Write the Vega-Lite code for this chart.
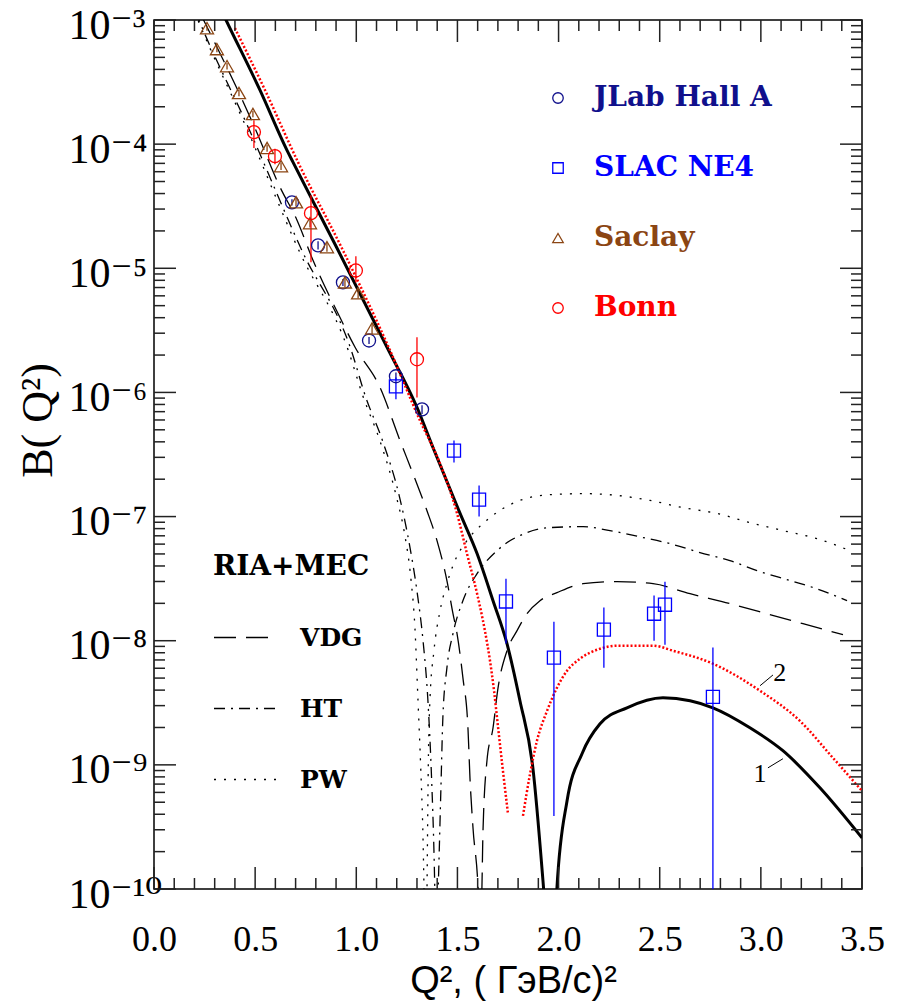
{
  "$schema": "https://vega.github.io/schema/vega-lite/v6.json",
  "width": 708,
  "height": 869,
  "autosize": {"type": "none"},
  "padding": {"left": 154, "top": 20, "right": 35, "bottom": 114},
  "background": "white",
  "config": {
    "view": {"stroke": "black", "strokeWidth": 1.5},
    "axis": {"domain": false, "grid": false, "ticks": false, "labelColor": "black", "titleColor": "black", "labelOverlap": false, "labelBound": false, "labelFlush": false}
  },
  "datasets": {
    "xticks": [
      {"t":0,"kind":"major"},{"t":0.1,"kind":"minor"},{"t":0.2,"kind":"minor"},{"t":0.3,"kind":"minor"},{"t":0.4,"kind":"minor"},{"t":0.5,"kind":"major"},{"t":0.6,"kind":"minor"},{"t":0.7,"kind":"minor"},{"t":0.8,"kind":"minor"},{"t":0.9,"kind":"minor"},
      {"t":1,"kind":"major"},{"t":1.1,"kind":"minor"},{"t":1.2,"kind":"minor"},{"t":1.3,"kind":"minor"},{"t":1.4,"kind":"minor"},{"t":1.5,"kind":"major"},{"t":1.6,"kind":"minor"},{"t":1.7,"kind":"minor"},{"t":1.8,"kind":"minor"},{"t":1.9,"kind":"minor"},
      {"t":2,"kind":"major"},{"t":2.1,"kind":"minor"},{"t":2.2,"kind":"minor"},{"t":2.3,"kind":"minor"},{"t":2.4,"kind":"minor"},{"t":2.5,"kind":"major"},{"t":2.6,"kind":"minor"},{"t":2.7,"kind":"minor"},{"t":2.8,"kind":"minor"},{"t":2.9,"kind":"minor"},
      {"t":3,"kind":"major"},{"t":3.1,"kind":"minor"},{"t":3.2,"kind":"minor"},{"t":3.3,"kind":"minor"},{"t":3.4,"kind":"minor"},{"t":3.5,"kind":"major"}
    ],
    "yticks": [
      {"t":1e-10,"kind":"major"},{"t":2e-10,"kind":"minor"},{"t":3e-10,"kind":"minor"},{"t":4e-10,"kind":"minor"},{"t":5e-10,"kind":"minor"},{"t":6e-10,"kind":"minor"},{"t":7e-10,"kind":"minor"},{"t":8e-10,"kind":"minor"},{"t":9e-10,"kind":"minor"},
      {"t":1e-9,"kind":"major"},{"t":2e-9,"kind":"minor"},{"t":3e-9,"kind":"minor"},{"t":4e-9,"kind":"minor"},{"t":5e-9,"kind":"minor"},{"t":6e-9,"kind":"minor"},{"t":7e-9,"kind":"minor"},{"t":8e-9,"kind":"minor"},{"t":9e-9,"kind":"minor"},
      {"t":1e-8,"kind":"major"},{"t":2e-8,"kind":"minor"},{"t":3e-8,"kind":"minor"},{"t":4e-8,"kind":"minor"},{"t":5e-8,"kind":"minor"},{"t":6e-8,"kind":"minor"},{"t":7e-8,"kind":"minor"},{"t":8e-8,"kind":"minor"},{"t":9e-8,"kind":"minor"},
      {"t":1e-7,"kind":"major"},{"t":2e-7,"kind":"minor"},{"t":3e-7,"kind":"minor"},{"t":4e-7,"kind":"minor"},{"t":5e-7,"kind":"minor"},{"t":6e-7,"kind":"minor"},{"t":7e-7,"kind":"minor"},{"t":8e-7,"kind":"minor"},{"t":9e-7,"kind":"minor"},
      {"t":1e-6,"kind":"major"},{"t":2e-6,"kind":"minor"},{"t":3e-6,"kind":"minor"},{"t":4e-6,"kind":"minor"},{"t":5e-6,"kind":"minor"},{"t":6e-6,"kind":"minor"},{"t":7e-6,"kind":"minor"},{"t":8e-6,"kind":"minor"},{"t":9e-6,"kind":"minor"},
      {"t":1e-5,"kind":"major"},{"t":2e-5,"kind":"minor"},{"t":3e-5,"kind":"minor"},{"t":4e-5,"kind":"minor"},{"t":5e-5,"kind":"minor"},{"t":6e-5,"kind":"minor"},{"t":7e-5,"kind":"minor"},{"t":8e-5,"kind":"minor"},{"t":9e-5,"kind":"minor"},
      {"t":1e-4,"kind":"major"},{"t":2e-4,"kind":"minor"},{"t":3e-4,"kind":"minor"},{"t":4e-4,"kind":"minor"},{"t":5e-4,"kind":"minor"},{"t":6e-4,"kind":"minor"},{"t":7e-4,"kind":"minor"},{"t":8e-4,"kind":"minor"},{"t":9e-4,"kind":"minor"},
      {"t":1e-3,"kind":"major"}
    ],
    "theory": [
      {"model":"VDG","branch":"d","Q2":0.23,"B":1.12e-3},{"model":"VDG","branch":"d","Q2":0.245,"B":1e-3},{"model":"VDG","branch":"d","Q2":0.499,"B":1.35e-4},{"model":"VDG","branch":"d","Q2":0.623,"B":4.5e-5},{"model":"VDG","branch":"d","Q2":0.707,"B":2.44e-5},{"model":"VDG","branch":"d","Q2":0.786,"B":1.16e-5},{"model":"VDG","branch":"d","Q2":0.919,"B":4.03e-6},{"model":"VDG","branch":"d","Q2":0.994,"B":2.31e-6},{"model":"VDG","branch":"d","Q2":1.117,"B":1.1e-6},{"model":"VDG","branch":"d","Q2":1.216,"B":4.1e-7},{"model":"VDG","branch":"d","Q2":1.28,"B":2.22e-7},{"model":"VDG","branch":"d","Q2":1.349,"B":1.12e-7},{"model":"VDG","branch":"d","Q2":1.399,"B":6.4e-8},{"model":"VDG","branch":"d","Q2":1.448,"B":3.05e-8},{"model":"VDG","branch":"d","Q2":1.478,"B":1.65e-8},{"model":"VDG","branch":"d","Q2":1.498,"B":1.14e-8},{"model":"VDG","branch":"d","Q2":1.527,"B":5.04e-9},{"model":"VDG","branch":"d","Q2":1.552,"B":1.99e-9},{"model":"VDG","branch":"d","Q2":1.562,"B":7.85e-10},{"model":"VDG","branch":"d","Q2":1.577,"B":3.1e-10},{"model":"VDG","branch":"d","Q2":1.602,"B":1.02e-10},{"model":"VDG","branch":"d","Q2":1.61,"B":5e-11},
      {"model":"VDG","branch":"a","Q2":1.616,"B":5e-11},{"model":"VDG","branch":"a","Q2":1.621,"B":1e-10},{"model":"VDG","branch":"a","Q2":1.626,"B":2.78e-10},{"model":"VDG","branch":"a","Q2":1.646,"B":1.08e-9},{"model":"VDG","branch":"a","Q2":1.676,"B":1.99e-9},{"model":"VDG","branch":"a","Q2":1.7,"B":4.1e-9},{"model":"VDG","branch":"a","Q2":1.745,"B":8.3e-9},{"model":"VDG","branch":"a","Q2":1.794,"B":1.2e-8},{"model":"VDG","branch":"a","Q2":1.844,"B":1.65e-8},{"model":"VDG","branch":"a","Q2":1.908,"B":2.1e-8},{"model":"VDG","branch":"a","Q2":1.992,"B":2.44e-8},{"model":"VDG","branch":"a","Q2":2.121,"B":2.88e-8},{"model":"VDG","branch":"a","Q2":2.289,"B":2.99e-8},{"model":"VDG","branch":"a","Q2":2.467,"B":2.88e-8},{"model":"VDG","branch":"a","Q2":2.65,"B":2.39e-8},{"model":"VDG","branch":"a","Q2":2.847,"B":1.99e-8},{"model":"VDG","branch":"a","Q2":3.03,"B":1.65e-8},{"model":"VDG","branch":"a","Q2":3.208,"B":1.37e-8},{"model":"VDG","branch":"a","Q2":3.406,"B":1.12e-8},
      {"model":"HT","branch":"d","Q2":0.205,"B":1.17e-3},{"model":"HT","branch":"d","Q2":0.222,"B":1e-3},{"model":"HT","branch":"d","Q2":0.47,"B":1.32e-4},{"model":"HT","branch":"d","Q2":0.735,"B":1.35e-5},{"model":"HT","branch":"d","Q2":0.975,"B":2.19e-6},{"model":"HT","branch":"d","Q2":1.045,"B":9.33e-7},{"model":"HT","branch":"d","Q2":1.13,"B":4.07e-7},{"model":"HT","branch":"d","Q2":1.215,"B":1.41e-7},{"model":"HT","branch":"d","Q2":1.26,"B":6.31e-8},{"model":"HT","branch":"d","Q2":1.3,"B":2.51e-8},{"model":"HT","branch":"d","Q2":1.33,"B":1e-8},{"model":"HT","branch":"d","Q2":1.354,"B":3.31e-9},{"model":"HT","branch":"d","Q2":1.372,"B":7.94e-10},{"model":"HT","branch":"d","Q2":1.384,"B":2e-10},{"model":"HT","branch":"d","Q2":1.392,"B":5e-11},
      {"model":"HT","branch":"a","Q2":1.4,"B":5e-11},{"model":"HT","branch":"a","Q2":1.41,"B":2e-10},{"model":"HT","branch":"a","Q2":1.419,"B":7.08e-10},{"model":"HT","branch":"a","Q2":1.428,"B":2.4e-9},{"model":"HT","branch":"a","Q2":1.448,"B":6.05e-9},{"model":"HT","branch":"a","Q2":1.478,"B":1.14e-8},{"model":"HT","branch":"a","Q2":1.527,"B":2.1e-8},{"model":"HT","branch":"a","Q2":1.597,"B":3.47e-8},{"model":"HT","branch":"a","Q2":1.696,"B":5.32e-8},{"model":"HT","branch":"a","Q2":1.844,"B":7.43e-8},{"model":"HT","branch":"a","Q2":1.957,"B":8.15e-8},{"model":"HT","branch":"a","Q2":2.121,"B":8.3e-8},{"model":"HT","branch":"a","Q2":2.254,"B":7.71e-8},{"model":"HT","branch":"a","Q2":2.417,"B":6.78e-8},{"model":"HT","branch":"a","Q2":2.551,"B":6.05e-8},{"model":"HT","branch":"a","Q2":2.699,"B":5.13e-8},{"model":"HT","branch":"a","Q2":2.847,"B":4.42e-8},{"model":"HT","branch":"a","Q2":2.981,"B":3.67e-8},{"model":"HT","branch":"a","Q2":3.144,"B":3.05e-8},{"model":"HT","branch":"a","Q2":3.277,"B":2.62e-8},{"model":"HT","branch":"a","Q2":3.426,"B":2.1e-8},
      {"model":"PW","branch":"d","Q2":0.2,"B":1.17e-3},{"model":"PW","branch":"d","Q2":0.217,"B":1e-3},{"model":"PW","branch":"d","Q2":0.46,"B":1.32e-4},{"model":"PW","branch":"d","Q2":0.72,"B":1.35e-5},{"model":"PW","branch":"d","Q2":0.96,"B":2.19e-6},{"model":"PW","branch":"d","Q2":1.033,"B":9.33e-7},{"model":"PW","branch":"d","Q2":1.117,"B":4.07e-7},{"model":"PW","branch":"d","Q2":1.2,"B":1.41e-7},{"model":"PW","branch":"d","Q2":1.24,"B":7.08e-8},{"model":"PW","branch":"d","Q2":1.27,"B":3.16e-8},{"model":"PW","branch":"d","Q2":1.29,"B":1.26e-8},{"model":"PW","branch":"d","Q2":1.305,"B":3.31e-9},{"model":"PW","branch":"d","Q2":1.318,"B":1e-9},{"model":"PW","branch":"d","Q2":1.33,"B":2.51e-10},{"model":"PW","branch":"d","Q2":1.338,"B":5e-11},
      {"model":"PW","branch":"a","Q2":1.348,"B":5e-11},{"model":"PW","branch":"a","Q2":1.352,"B":2.51e-10},{"model":"PW","branch":"a","Q2":1.356,"B":1e-9},{"model":"PW","branch":"a","Q2":1.364,"B":3.31e-9},{"model":"PW","branch":"a","Q2":1.384,"B":8.32e-9},{"model":"PW","branch":"a","Q2":1.414,"B":1.74e-8},{"model":"PW","branch":"a","Q2":1.448,"B":2.88e-8},{"model":"PW","branch":"a","Q2":1.488,"B":4.42e-8},{"model":"PW","branch":"a","Q2":1.547,"B":6.4e-8},{"model":"PW","branch":"a","Q2":1.626,"B":8.79e-8},{"model":"PW","branch":"a","Q2":1.71,"B":1.12e-7},{"model":"PW","branch":"a","Q2":1.809,"B":1.35e-7},{"model":"PW","branch":"a","Q2":1.957,"B":1.5e-7},{"model":"PW","branch":"a","Q2":2.121,"B":1.53e-7},{"model":"PW","branch":"a","Q2":2.289,"B":1.48e-7},{"model":"PW","branch":"a","Q2":2.452,"B":1.35e-7},{"model":"PW","branch":"a","Q2":2.615,"B":1.18e-7},{"model":"PW","branch":"a","Q2":2.783,"B":1.06e-7},{"model":"PW","branch":"a","Q2":2.946,"B":8.95e-8},{"model":"PW","branch":"a","Q2":3.109,"B":7.71e-8},{"model":"PW","branch":"a","Q2":3.277,"B":6.65e-8},{"model":"PW","branch":"a","Q2":3.44,"B":5.32e-8}
    ],
    "curve1": [
      {"branch":"d","Q2":0.3,"B":1.56e-3},{"branch":"d","Q2":0.356,"B":1e-3},{"branch":"d","Q2":0.524,"B":2.72e-4},{"branch":"d","Q2":0.657,"B":8.95e-5},{"branch":"d","Q2":0.687,"B":7.16e-5},{"branch":"d","Q2":0.905,"B":1.45e-5},{"branch":"d","Q2":1.152,"B":2.31e-6},{"branch":"d","Q2":1.3,"B":7.57e-7},{"branch":"d","Q2":1.379,"B":3.6e-7},{"branch":"d","Q2":1.513,"B":1.06e-7},{"branch":"d","Q2":1.597,"B":5.04e-8},{"branch":"d","Q2":1.676,"B":2.1e-8},{"branch":"d","Q2":1.745,"B":9.46e-9},{"branch":"d","Q2":1.809,"B":3.28e-9},{"branch":"d","Q2":1.873,"B":9.46e-10},{"branch":"d","Q2":1.923,"B":1.16e-10},{"branch":"d","Q2":1.945,"B":4e-11},
      {"branch":"a","Q2":1.98,"B":4e-11},{"branch":"a","Q2":1.992,"B":1.02e-10},{"branch":"a","Q2":2.042,"B":5.13e-10},{"branch":"a","Q2":2.116,"B":1.23e-9},{"branch":"a","Q2":2.205,"B":2.14e-9},{"branch":"a","Q2":2.338,"B":2.88e-9},{"branch":"a","Q2":2.516,"B":3.47e-9},{"branch":"a","Q2":2.65,"B":3.28e-9},{"branch":"a","Q2":2.763,"B":2.88e-9},{"branch":"a","Q2":2.946,"B":1.99e-9},{"branch":"a","Q2":3.109,"B":1.3e-9},{"branch":"a","Q2":3.292,"B":6.53e-10},{"branch":"a","Q2":3.5,"B":2.58e-10}
    ],
    "curve2": [
      {"branch":"d","Q2":0.4,"B":8.6e-4},{"branch":"d","Q2":0.549,"B":2.72e-4},{"branch":"d","Q2":0.712,"B":7.16e-5},{"branch":"d","Q2":0.929,"B":1.45e-5},{"branch":"d","Q2":1.16,"B":2.31e-6},{"branch":"d","Q2":1.315,"B":5.94e-7},{"branch":"d","Q2":1.414,"B":2.67e-7},{"branch":"d","Q2":1.498,"B":1.06e-7},{"branch":"d","Q2":1.547,"B":5.04e-8},{"branch":"d","Q2":1.597,"B":2.4e-8},{"branch":"d","Q2":1.636,"B":1.2e-8},{"branch":"d","Q2":1.661,"B":6.9e-9},{"branch":"d","Q2":1.681,"B":3.95e-9},{"branch":"d","Q2":1.7,"B":2.07e-9},{"branch":"d","Q2":1.725,"B":8.95e-10},{"branch":"d","Q2":1.75,"B":4.03e-10},
      {"branch":"a","Q2":1.824,"B":3.88e-10},{"branch":"a","Q2":1.859,"B":8.45e-10},{"branch":"a","Q2":1.893,"B":1.56e-9},{"branch":"a","Q2":1.943,"B":2.72e-9},{"branch":"a","Q2":1.992,"B":4.18e-9},{"branch":"a","Q2":2.042,"B":5.73e-9},{"branch":"a","Q2":2.106,"B":7.16e-9},{"branch":"a","Q2":2.205,"B":8.61e-9},{"branch":"a","Q2":2.289,"B":9.12e-9},{"branch":"a","Q2":2.467,"B":9.12e-9},{"branch":"a","Q2":2.566,"B":8.3e-9},{"branch":"a","Q2":2.763,"B":6.53e-9},{"branch":"a","Q2":2.996,"B":3.95e-9},{"branch":"a","Q2":3.193,"B":2.26e-9},{"branch":"a","Q2":3.356,"B":1.14e-9},{"branch":"a","Q2":3.5,"B":6.17e-10}
    ],
    "points": [
      {"series":"JLab Hall A","Q2":0.682,"B":3.4e-5,"lo":3.2e-5,"hi":3.6e-5},
      {"series":"JLab Hall A","Q2":0.811,"B":1.53e-5,"lo":1.42e-5,"hi":1.65e-5},
      {"series":"JLab Hall A","Q2":0.934,"B":7.7e-6,"lo":7.2e-6,"hi":8.2e-6},
      {"series":"JLab Hall A","Q2":1.063,"B":2.62e-6,"lo":2.45e-6,"hi":2.8e-6},
      {"series":"JLab Hall A","Q2":1.196,"B":1.35e-6,"lo":1.25e-6,"hi":1.45e-6},
      {"series":"JLab Hall A","Q2":1.325,"B":7.3e-7,"lo":6.7e-7,"hi":7.9e-7},
      {"series":"SLAC NE4","Q2":1.196,"B":1.12e-6,"lo":8.8e-7,"hi":1.32e-6},
      {"series":"SLAC NE4","Q2":1.483,"B":3.4e-7,"lo":2.72e-7,"hi":4.1e-7},
      {"series":"SLAC NE4","Q2":1.607,"B":1.37e-7,"lo":1.0e-7,"hi":1.78e-7},
      {"series":"SLAC NE4","Q2":1.74,"B":2.07e-8,"lo":9.5e-9,"hi":3.16e-8},
      {"series":"SLAC NE4","Q2":1.977,"B":7.3e-9,"lo":3.88e-10,"hi":1.42e-8},
      {"series":"SLAC NE4","Q2":2.224,"B":1.23e-8,"lo":6.05e-9,"hi":1.85e-8},
      {"series":"SLAC NE4","Q2":2.472,"B":1.65e-8,"lo":1.0e-8,"hi":2.31e-8},
      {"series":"SLAC NE4","Q2":2.526,"B":1.95e-8,"lo":9.3e-9,"hi":2.99e-8},
      {"series":"SLAC NE4","Q2":2.763,"B":3.53e-9,"lo":1e-11,"hi":8.8e-9},
      {"series":"Saclay","Q2":0.262,"B":8.6e-4,"lo":8.2e-4,"hi":9.0e-4},
      {"series":"Saclay","Q2":0.311,"B":5.83e-4,"lo":5.5e-4,"hi":6.2e-4},
      {"series":"Saclay","Q2":0.361,"B":4.25e-4,"lo":4.0e-4,"hi":4.5e-4},
      {"series":"Saclay","Q2":0.42,"B":2.58e-4,"lo":2.43e-4,"hi":2.73e-4},
      {"series":"Saclay","Q2":0.489,"B":1.75e-4,"lo":1.65e-4,"hi":1.85e-4},
      {"series":"Saclay","Q2":0.559,"B":9.3e-5,"lo":8.7e-5,"hi":9.9e-5},
      {"series":"Saclay","Q2":0.628,"B":6.65e-5,"lo":6.2e-5,"hi":7.1e-5},
      {"series":"Saclay","Q2":0.702,"B":3.4e-5,"lo":3.15e-5,"hi":3.65e-5},
      {"series":"Saclay","Q2":0.771,"B":2.31e-5,"lo":2.13e-5,"hi":2.5e-5},
      {"series":"Saclay","Q2":0.855,"B":1.48e-5,"lo":1.36e-5,"hi":1.6e-5},
      {"series":"Saclay","Q2":0.944,"B":7.7e-6,"lo":7.0e-6,"hi":8.4e-6},
      {"series":"Saclay","Q2":1.009,"B":6.3e-6,"lo":5.7e-6,"hi":6.9e-6},
      {"series":"Saclay","Q2":1.078,"B":3.28e-6,"lo":2.95e-6,"hi":3.6e-6},
      {"series":"Bonn","Q2":0.494,"B":1.25e-4,"lo":9.3e-5,"hi":1.56e-4},
      {"series":"Bonn","Q2":0.598,"B":8.0e-5,"lo":6.9e-5,"hi":9.2e-5},
      {"series":"Bonn","Q2":0.776,"B":2.78e-5,"lo":1.12e-5,"hi":3.88e-5},
      {"series":"Bonn","Q2":0.998,"B":9.6e-6,"lo":7.7e-6,"hi":1.25e-5},
      {"series":"Bonn","Q2":1.3,"B":1.85e-6,"lo":9.1e-7,"hi":2.78e-6}
    ],
    "labels": [
      {"label":"1","Q2":2.996,"B":8.45e-10},
      {"label":"2","Q2":3.094,"B":5.52e-9}
    ],
    "leaders": [
      {"Q2":3.035,"B":9.46e-10,"Q2b":3.109,"Bb":1.12e-9},
      {"Q2":2.996,"B":4.34e-9,"Q2b":3.06,"Bb":5.3e-9}
    ]
  },
  "layer": [
    {
      "data": {"name": "theory"},
      "mark": {"type": "line", "color": "black", "strokeWidth": 1.3, "clip": true, "interpolate": "monotone"},
      "encoding": {
        "x": {"field": "Q2", "type": "quantitative", "scale": {"domain": [0, 3.5], "nice": false, "zero": false},
          "axis": {"orient": "bottom", "values": [0,0.5,1,1.5,2,2.5,3,3.5],
            "title": "Q², ( ГэВ/с)²",
            "labelExpr": "format(datum.value, '.1f')",
            "labelFont": "Liberation Serif", "labelFontSize": 36, "labelPadding": 33,
            "titleFont": "Liberation Sans", "titleFontSize": 38, "titleFontWeight": "normal", "titleX": 359, "titleY": 92, "titleBaseline": "middle", "titleAlign": "center"}},
        "y": {"field": "B", "type": "quantitative", "scale": {"type": "log", "domain": [1e-10, 1e-3], "nice": false},
          "axis": {"orient": "left", "values": [1e-10,1e-9,1e-8,1e-7,1e-6,1e-5,1e-4,1e-3],
            "title": "B( Q²)",
            "labelExpr": "'10⁻' + (round(-log(datum.value)/LN10) == 10 ? '¹⁰' : substring('⁰¹²³⁴⁵⁶⁷⁸⁹', round(-log(datum.value)/LN10), round(-log(datum.value)/LN10) + 1))",
            "labelFont": "Liberation Serif, DejaVu Serif", "labelFontSize": 42, "labelAlign": "left", "labelBaseline": "middle", "labelPadding": 86, "labelOffset": 5,
            "titleFont": "Liberation Serif", "titleFontSize": 44, "titleFontWeight": "normal", "titleX": -116, "titleY": 400, "titleBaseline": "middle", "titleAlign": "center", "titleAngle": -90}},
        "strokeDash": {"field": "model", "type": "nominal",
          "scale": {"domain": ["VDG", "HT", "PW"], "range": [[22, 10], [11, 6, 2, 6], [2, 8]]},
          "legend": {"title": "RIA+MEC", "orient": "none", "legendX": 59, "legendY": 533, "padding": 0,
            "titleFont": "DejaVu Serif", "titleFontWeight": "bold", "titleFontSize": 28, "titleColor": "black", "titlePadding": 24,
            "labelFont": "DejaVu Serif", "labelFontWeight": "bold", "labelFontSize": 25, "labelColor": "black", "labelOffset": 22,
            "symbolType": "stroke", "symbolSize": 3969, "symbolStrokeWidth": 1.5, "symbolStrokeColor": "black", "rowPadding": 25}},
        "detail": {"field": "branch"}
      }
    },
    {
      "data": {"name": "curve1"},
      "mark": {"type": "line", "color": "black", "strokeWidth": 3, "clip": true, "interpolate": "monotone"},
      "encoding": {
        "x": {"field": "Q2", "type": "quantitative", "axis": null},
        "y": {"field": "B", "type": "quantitative", "axis": null},
        "detail": {"field": "branch"}
      }
    },
    {
      "data": {"name": "curve2"},
      "mark": {"type": "line", "color": "#ff0000", "strokeWidth": 2.5, "strokeDash": [2, 2], "clip": true, "interpolate": "monotone"},
      "encoding": {
        "x": {"field": "Q2", "type": "quantitative", "axis": null},
        "y": {"field": "B", "type": "quantitative", "axis": null},
        "detail": {"field": "branch"}
      }
    },
    {
      "data": {"name": "xticks"},
      "transform": [
        {"calculate": "1e-10", "as": "ya"},
        {"calculate": "datum.kind == 'major' ? 1.504e-10 : 1.227e-10", "as": "yb"}
      ],
      "mark": {"type": "rule", "color": "#222222", "strokeWidth": 1.5},
      "encoding": {
        "x": {"field": "t", "type": "quantitative", "axis": null},
        "x2": {"field": "t"},
        "y": {"field": "ya", "type": "quantitative", "axis": null},
        "y2": {"field": "yb"}
      }
    },
    {
      "data": {"name": "xticks"},
      "transform": [
        {"calculate": "1e-3", "as": "ya"},
        {"calculate": "datum.kind == 'major' ? 6.65e-4 : 8.15e-4", "as": "yb"}
      ],
      "mark": {"type": "rule", "color": "#222222", "strokeWidth": 1.5},
      "encoding": {
        "x": {"field": "t", "type": "quantitative", "axis": null},
        "x2": {"field": "t"},
        "y": {"field": "ya", "type": "quantitative", "axis": null},
        "y2": {"field": "yb"}
      }
    },
    {
      "data": {"name": "yticks"},
      "transform": [
        {"calculate": "0", "as": "xa"},
        {"calculate": "datum.kind == 'major' ? 0.1087 : 0.0544", "as": "xb"}
      ],
      "mark": {"type": "rule", "color": "#222222", "strokeWidth": 1.5},
      "encoding": {
        "y": {"field": "t", "type": "quantitative", "axis": null},
        "y2": {"field": "t"},
        "x": {"field": "xa", "type": "quantitative", "axis": null},
        "x2": {"field": "xb"}
      }
    },
    {
      "data": {"name": "yticks"},
      "transform": [
        {"calculate": "3.5", "as": "xa"},
        {"calculate": "datum.kind == 'major' ? 3.3913 : 3.4456", "as": "xb"}
      ],
      "mark": {"type": "rule", "color": "#222222", "strokeWidth": 1.5},
      "encoding": {
        "y": {"field": "t", "type": "quantitative", "axis": null},
        "y2": {"field": "t"},
        "x": {"field": "xa", "type": "quantitative", "axis": null},
        "x2": {"field": "xb"}
      }
    },
    {
      "data": {"name": "points"},
      "transform": [{"filter": "datum.series == 'JLab Hall A'"}],
      "mark": {"type": "rule", "strokeWidth": 1.3, "clip": true, "color": "#10108c"},
      "encoding": {
        "x": {"field": "Q2", "type": "quantitative", "axis": null},
        "y": {"field": "lo", "type": "quantitative", "axis": null},
        "y2": {"field": "hi"}
      }
    },
    {
      "data": {"name": "points"},
      "transform": [{"filter": "datum.series == 'SLAC NE4'"}],
      "mark": {"type": "rule", "strokeWidth": 1.3, "clip": true, "color": "#0000ff"},
      "encoding": {
        "x": {"field": "Q2", "type": "quantitative", "axis": null},
        "y": {"field": "lo", "type": "quantitative", "axis": null},
        "y2": {"field": "hi"}
      }
    },
    {
      "data": {"name": "points"},
      "transform": [{"filter": "datum.series == 'Saclay'"}],
      "mark": {"type": "rule", "strokeWidth": 1.3, "clip": true, "color": "#8b4513"},
      "encoding": {
        "x": {"field": "Q2", "type": "quantitative", "axis": null},
        "y": {"field": "lo", "type": "quantitative", "axis": null},
        "y2": {"field": "hi"}
      }
    },
    {
      "data": {"name": "points"},
      "transform": [{"filter": "datum.series == 'Bonn'"}],
      "mark": {"type": "rule", "strokeWidth": 1.3, "clip": true, "color": "#ff0000"},
      "encoding": {
        "x": {"field": "Q2", "type": "quantitative", "axis": null},
        "y": {"field": "lo", "type": "quantitative", "axis": null},
        "y2": {"field": "hi"}
      }
    },
    {
      "data": {"name": "points"},
      "mark": {"type": "point", "filled": false, "strokeWidth": 1.3, "size": 170, "opacity": 1},
      "encoding": {
        "x": {"field": "Q2", "type": "quantitative", "axis": null},
        "y": {"field": "B", "type": "quantitative", "axis": null},
        "color": {"field": "series", "type": "nominal",
          "scale": {"domain": ["JLab Hall A", "SLAC NE4", "Saclay", "Bonn"], "range": ["#10108c", "#0000ff", "#8b4513", "#ff0000"]},
          "legend": {"title": null, "orient": "none", "legendX": 390, "legendY": 64, "padding": 0,
            "labelFont": "DejaVu Serif", "labelFontWeight": "bold", "labelFontSize": 28, "labelOffset": 22, "rowPadding": 42, "labelLimit": 0,
            "symbolSize": 110, "symbolStrokeWidth": 1.3,
            "labelColor": {"expr": "scale('color', datum.value)"}}},
        "shape": {"field": "series", "type": "nominal",
          "scale": {"domain": ["JLab Hall A", "SLAC NE4", "Saclay", "Bonn"], "range": ["circle", "square", "triangle-up", "circle"]},
          "legend": {"title": null, "orient": "none", "legendX": 390, "legendY": 64, "padding": 0,
            "labelFont": "DejaVu Serif", "labelFontWeight": "bold", "labelFontSize": 28, "labelOffset": 22, "rowPadding": 42, "labelLimit": 0,
            "symbolSize": 110, "symbolStrokeWidth": 1.3,
            "labelColor": {"expr": "scale('color', datum.value)"}}}
      }
    },
    {
      "data": {"name": "labels"},
      "mark": {"type": "text", "font": "Liberation Serif", "fontSize": 26, "color": "black", "align": "center", "baseline": "middle"},
      "encoding": {
        "x": {"field": "Q2", "type": "quantitative", "axis": null},
        "y": {"field": "B", "type": "quantitative", "axis": null},
        "text": {"field": "label"}
      }
    },
    {
      "data": {"name": "leaders"},
      "mark": {"type": "rule", "color": "black", "strokeWidth": 1},
      "encoding": {
        "x": {"field": "Q2", "type": "quantitative", "axis": null},
        "x2": {"field": "Q2b"},
        "y": {"field": "B", "type": "quantitative", "axis": null},
        "y2": {"field": "Bb"}
      }
    }
  ],
  "resolve": {"axis": {"x": "independent", "y": "independent"}}
}
